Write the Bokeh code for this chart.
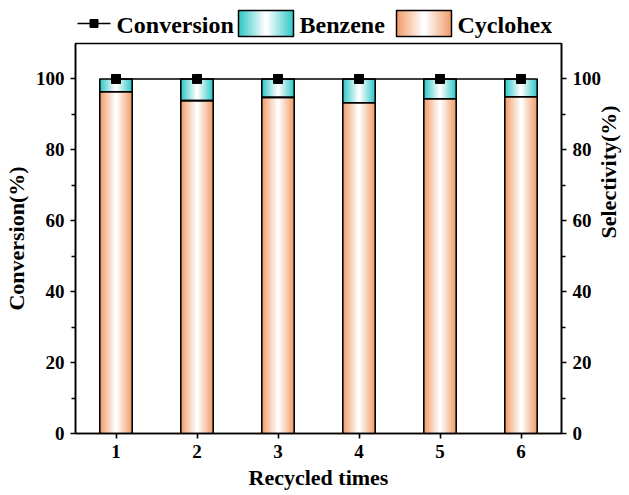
import math
from bokeh.plotting import figure
from bokeh.layouts import column
from bokeh.models import Range1d, LinearAxis, FixedTicker, ColumnDataSource
from bokeh.core.properties import value
from bokeh.embed import file_html
from bokeh.resources import INLINE

# ---- data ----
cycles = [1, 2, 3, 4, 5, 6]
tick_labels = ["1", "2", "3", "4", "5", "6"]
conversion = [100, 100, 100, 100, 100, 100]
cyclohexane = [96.4, 93.9, 94.8, 93.3, 94.4, 95.0]
benzene = [3.6, 6.1, 5.2, 6.7, 5.6, 5.0]
series_names = ["Conversion", "Benzene", "Cyclohexane"]

ORANGE = (241, 158, 108)
TEAL = (52, 200, 200)
FONT = "Liberation Serif"
BAR_W = 0.4
N_LAYERS = 16

FRAME_W, FRAME_H = 486, 390
BL, BR, BT, BB = 75, 66, 3, 60
TOTAL_W = BL + FRAME_W + BR
LEG_H = 40


def blend(c, t):
    r = [int(round(c[i] + (255 - c[i]) * t)) for i in range(3)]
    return "#%02x%02x%02x" % tuple(r)


def prof(k):
    # colour weight and width fraction for layer k (edge -> centre)
    t = k / (N_LAYERS - 1)
    return t, 1 - k / N_LAYERS


# ---------------- main plot ----------------
p = figure(output_backend="svg", toolbar_location=None,
           x_range=Range1d(0.5, 6.5), y_range=Range1d(0, 110),
           frame_width=FRAME_W, frame_height=FRAME_H,
           min_border_left=BL, min_border_right=BR, min_border_top=BT, min_border_bottom=BB)
p.extra_y_ranges = {"sel": Range1d(0, 110)}
p.xgrid.visible = False
p.ygrid.visible = False
p.outline_line_color = "black"
p.outline_line_width = 1.5

tops_b = [c + b for c, b in zip(cyclohexane, benzene)]
src = ColumnDataSource(dict(x=cycles, cyc=cyclohexane, btm=cyclohexane, top=tops_b, conv=conversion))

for k in range(N_LAYERS):
    t, f = prof(k)
    p.vbar(x="x", bottom=0, top="cyc", width=BAR_W * f, source=src,
           fill_color=blend(ORANGE, t), line_color=None)
    p.vbar(x="x", bottom="btm", top="top", width=BAR_W * f, source=src,
           fill_color=blend(TEAL, t), line_color=None)

p.vbar(x="x", bottom=0, top="cyc", width=BAR_W, source=src, fill_alpha=0,
       line_color="black", line_width=1.6)
p.vbar(x="x", bottom="btm", top="top", width=BAR_W, source=src, fill_alpha=0,
       line_color="black", line_width=1.6)

p.line(x="x", y="conv", source=src, line_color="black", line_width=1.5)
p.scatter(x="x", y="conv", source=src, marker="square", size=9,
          fill_color="black", line_color="black")


def style_axis(ax, label):
    ax.axis_label = label
    ax.axis_label_text_font = FONT
    ax.axis_label_text_font_style = "bold"
    ax.axis_label_text_font_size = "22px"
    ax.axis_label_text_color = "black"
    ax.axis_label_standoff = 4
    ax.major_label_text_font = FONT
    ax.major_label_text_font_style = "bold"
    ax.major_label_text_font_size = "19px"
    ax.major_label_text_color = "black"
    ax.major_label_standoff = 6
    ax.axis_line_width = 1.6
    ax.major_tick_line_width = 1.6
    ax.minor_tick_line_width = 1.6
    ax.major_tick_in = 0
    ax.major_tick_out = 5
    ax.minor_tick_in = 0
    ax.minor_tick_out = 4


p.yaxis.ticker = FixedTicker(ticks=[0, 20, 40, 60, 80, 100], minor_ticks=[10, 30, 50, 70, 90])
style_axis(p.yaxis[0], "Conversion(%)")

p.xaxis.ticker = FixedTicker(ticks=cycles)
p.xaxis.major_label_overrides = {c: s for c, s in zip(cycles, tick_labels)}
style_axis(p.xaxis[0], "Recycled times")
p.xaxis.minor_tick_out = 0

ry = LinearAxis(y_range_name="sel",
                ticker=FixedTicker(ticks=[0, 20, 40, 60, 80, 100], minor_ticks=[10, 30, 50, 70, 90]))
style_axis(ry, "Selectivity(%)")
ry.axis_label_orientation = math.pi / 2
p.add_layout(ry, "right")

# ---------------- legend strip ----------------
# the column layout aligns this strip's frame with the main frame (page x = BL),
# so its x range is expressed directly in page pixels from BL to TOTAL_W
lg = figure(output_backend="svg", toolbar_location=None, title=None,
            x_axis_type=None, y_axis_type=None,
            frame_width=TOTAL_W - BL, frame_height=LEG_H,
            x_range=Range1d(BL, TOTAL_W), y_range=Range1d(LEG_H, 0),
            min_border_left=0, min_border_right=0, min_border_top=0, min_border_bottom=0)
lg.grid.visible = False
lg.outline_line_color = None

YC = 23
# Conversion sample: line with square
lg.line(x=[77, 110], y=[YC, YC], line_color="black", line_width=1.5)
lg.scatter(x=[93.5], y=[YC], marker="square", size=8, fill_color="black", line_color="black")
# gradient boxes
BOX_W, BOX_H = 55, 26
for cx, col in ((265.5, TEAL), (423.5, ORANGE)):
    for k in range(N_LAYERS):
        t, f = prof(k)
        lg.rect(x=[cx], y=[YC], width=BOX_W * f, height=BOX_H,
                fill_color=blend(col, t), line_color=None)
    lg.rect(x=[cx], y=[YC], width=BOX_W, height=BOX_H, fill_alpha=0,
            line_color="black", line_width=1.5)

lg.text(x=[116, 299, 457], y=[YC + 1] * 3, text=series_names,
        text_font=value(FONT), text_font_style="bold", text_font_size="24px",
        text_color="black", text_baseline="middle", text_align="left")

layout = column(lg, p, spacing=0)
open("out.html", "w").write(file_html(layout, INLINE))
